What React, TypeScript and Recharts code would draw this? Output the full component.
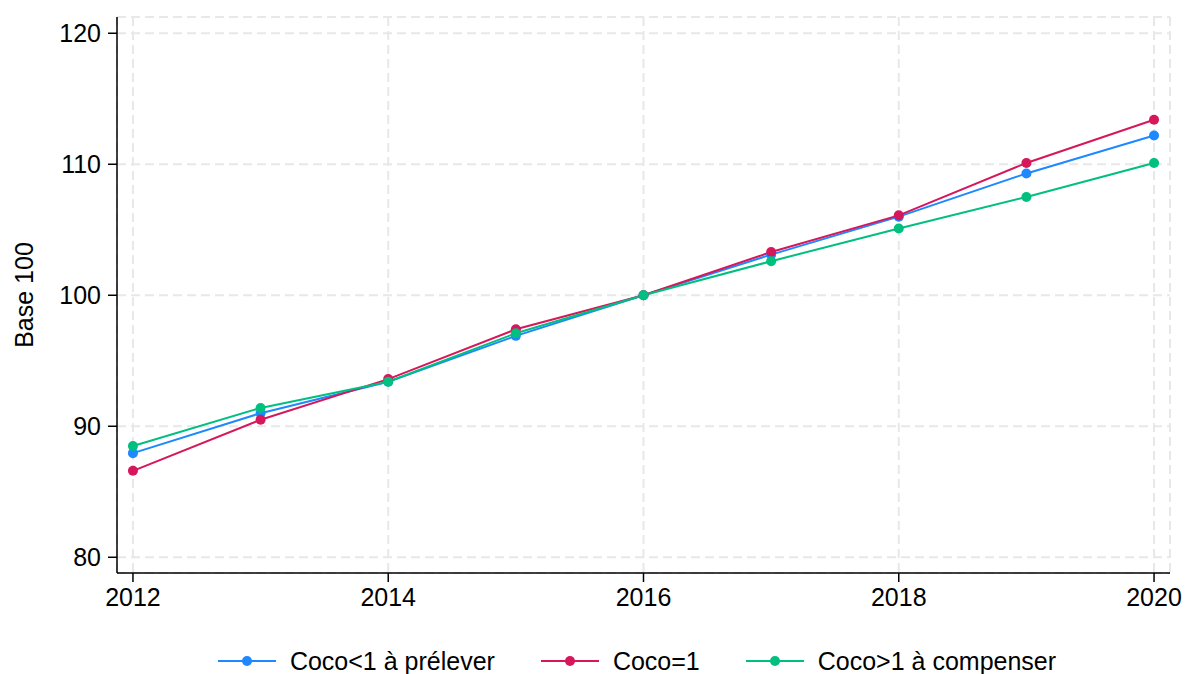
import React from "react";
import {
  LineChart,
  Line,
  XAxis,
  YAxis,
  CartesianGrid,
  Legend,
} from "recharts";

const years = [2012, 2013, 2014, 2015, 2016, 2017, 2018, 2019, 2020];
const cocoBelow = [87.95, 91.0, 93.4, 96.9, 100, 103.1, 106.0, 109.3, 112.2];
const cocoOne = [86.6, 90.5, 93.6, 97.4, 100, 103.3, 106.1, 110.1, 113.4];
const cocoAbove = [88.5, 91.4, 93.4, 97.1, 100, 102.6, 105.1, 107.5, 110.1];

const xTicks = [2012, 2014, 2016, 2018, 2020];
const yTicks = [80, 90, 100, 110, 120];

const FONT = "'Liberation Sans', Arial, Helvetica, sans-serif";

const series = [
  { key: "below", name: "Coco<1 à prélever", color: "#1e88ff", values: cocoBelow },
  { key: "one", name: "Coco=1", color: "#d6175b", values: cocoOne },
  { key: "above", name: "Coco>1 à compenser", color: "#00bf7f", values: cocoAbove },
];

const data = years.map((year, i) => ({
  year,
  below: cocoBelow[i],
  one: cocoOne[i],
  above: cocoAbove[i],
}));

const LegendContent = () => (
  <div
    style={{
      display: "flex",
      justifyContent: "center",
      alignItems: "center",
      height: 26,
      paddingLeft: 104,
      fontFamily: FONT,
      fontSize: 25,
      color: "#000",
    }}
  >
    {series.map((s, i) => (
      <div
        key={s.key}
        style={{
          display: "flex",
          alignItems: "center",
          marginLeft: i === 0 ? 0 : 46,
        }}
      >
        <svg width={58} height={12} style={{ marginRight: 14, display: "block" }}>
          <line x1={0} y1={6} x2={58} y2={6} stroke={s.color} strokeWidth={2} />
          <circle cx={29} cy={6} r={5} fill={s.color} />
        </svg>
        <span style={{ lineHeight: "26px", whiteSpace: "nowrap" }}>{s.name}</span>
      </div>
    ))}
  </div>
);

const YLabel = ({ viewBox }: { viewBox?: any }) => {
  const cy = viewBox ? viewBox.y + viewBox.height / 2 : 295;
  return (
    <text
      x={24}
      y={cy}
      transform={`rotate(-90, 24, ${cy})`}
      textAnchor="middle"
      dominantBaseline="central"
      fill="#000"
      fontSize={25}
      fontFamily={FONT}
    >
      Base 100
    </text>
  );
};

export default function App() {
  return (
    <div style={{ position: "absolute", left: 0, top: 0, background: "#fff" }}>
      <LineChart
        width={1185}
        height={674}
        data={data}
        margin={{ top: 17, right: 15, bottom: 0, left: 0 }}
      >
        <CartesianGrid
          stroke="#e8e8e8"
          strokeWidth={2}
          strokeDasharray="9 5"
        />
        <XAxis
          dataKey="year"
          type="number"
          domain={[2011.875, 2020.125]}
          ticks={xTicks}
          height={75}
          tickSize={9}
          tickMargin={6}
          axisLine={{ stroke: "#000", strokeWidth: 1.5 }}
          tickLine={{ stroke: "#000", strokeWidth: 1.5 }}
          tick={{ fill: "#000", fontSize: 25, fontFamily: FONT }}
          allowDataOverflow
        />
        <YAxis
          type="number"
          domain={[78.8, 121.24]}
          ticks={yTicks}
          width={117}
          tickSize={9}
          tickMargin={7}
          axisLine={{ stroke: "#000", strokeWidth: 1.5 }}
          tickLine={{ stroke: "#000", strokeWidth: 1.5 }}
          tick={{ fill: "#000", fontSize: 25, fontFamily: FONT }}
          label={{ content: <YLabel /> }}
          allowDataOverflow
        />
        <Legend verticalAlign="bottom" content={<LegendContent />} />
        {series.map((s) => (
          <Line
            key={s.key}
            dataKey={s.key}
            name={s.name}
            type="linear"
            stroke={s.color}
            strokeWidth={2}
            dot={{ r: 5, fill: s.color, stroke: "none" }}
            activeDot={false}
            isAnimationActive={false}
          />
        ))}
      </LineChart>
    </div>
  );
}
